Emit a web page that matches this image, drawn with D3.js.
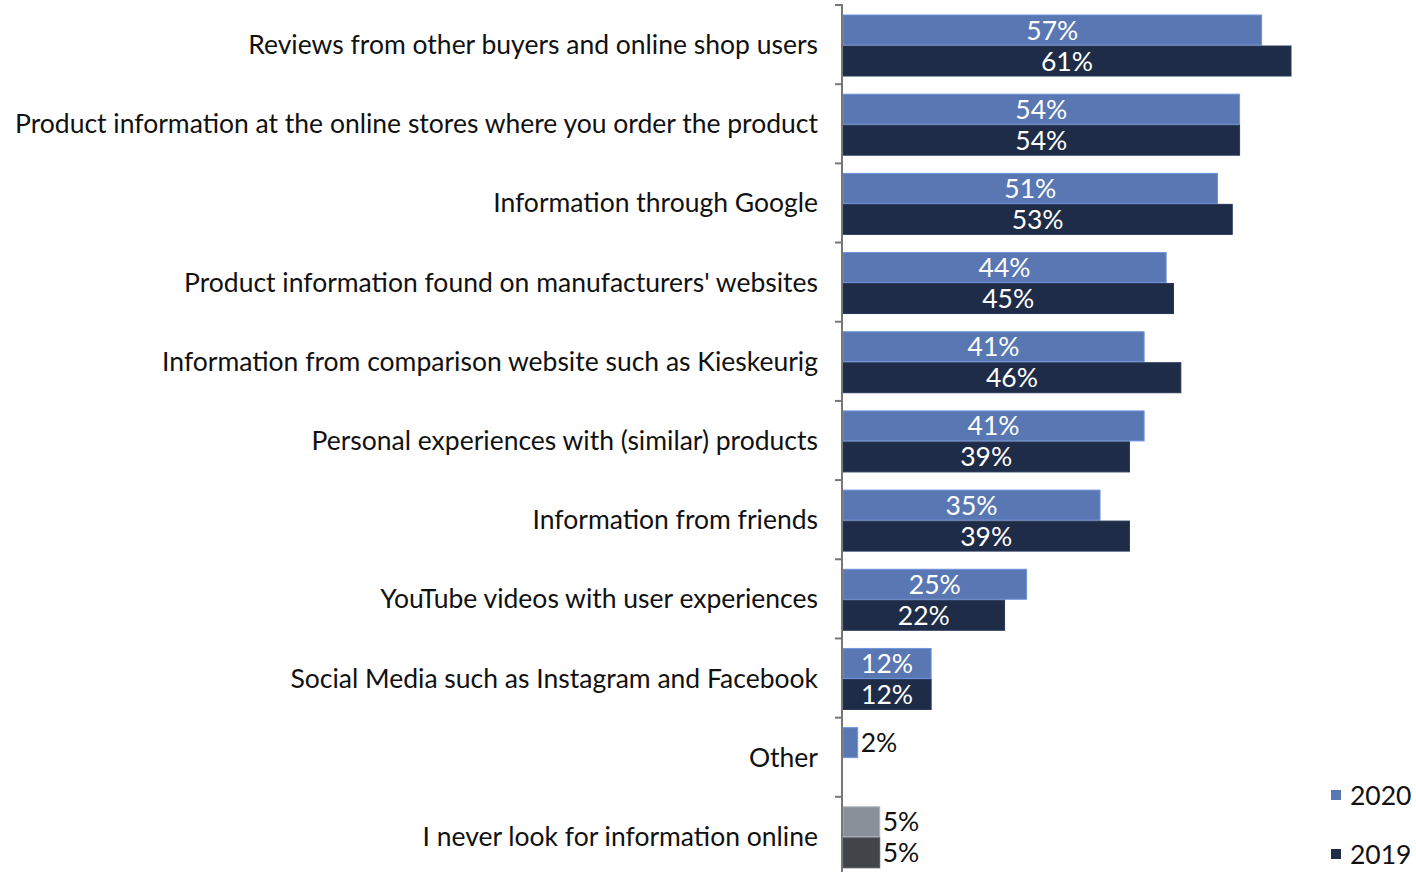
<!DOCTYPE html>
<html>
<head>
<meta charset="utf-8">
<script src="https://cdn.jsdelivr.net/npm/d3@7"></script>
<style>
  html, body { margin: 0; padding: 0; background: #fff; }
  svg { display: block; font-family: Lato, "Open Sans", sans-serif; font-weight: 400; }
</style>
</head>
<body>
<svg id="chart" width="1416" height="872"></svg>
<script>
// Sources consulted when shopping online (share of respondents, %)
const categories = [
  "Reviews from other buyers and online shop users",
  "Product information at the online stores where you order the product",
  "Information through Google",
  "Product information found on manufacturers' websites",
  "Information from comparison website such as Kieskeurig",
  "Personal experiences with (similar) products",
  "Information from friends",
  "YouTube videos with user experiences",
  "Social Media such as Instagram and Facebook",
  "Other",
  "I never look for information online"
];
const values2020 = [57, 54, 51, 44, 41, 41, 35, 25, 12, 2, 5];
const values2019 = [61, 54, 53, 45, 46, 39, 39, 22, 12, null, 5];
const seriesNames = ["2020", "2019"];

const colors = { "2020": "#5977b3", "2019": "#1f2c47" };
const neverColors = { "2020": "#8a9099", "2019": "#414449" };

const svg = d3.select("#chart");
const FS = 26.5;

const axisX = 842;
const y = d3.scaleBand().domain(categories).range([5, 876]).paddingInner(0).paddingOuter(0);
const x = d3.scaleLinear().domain([0, 61]).range([axisX + 1, 1291]);

const barH = 30;
const barOffset = { "2020": 10, "2019": 41 };

const rows = [];
categories.forEach((c, i) => {
  [["2020", values2020[i]], ["2019", values2019[i]]].forEach(([s, v]) => {
    if (v != null) rows.push({ cat: c, series: s, value: v, idx: i });
  });
});

const isNever = d => d.cat === "I never look for information online";
const fillOf = d => isNever(d) ? neverColors[d.series] : colors[d.series];

const g = svg.append("g");

g.selectAll("rect.bar")
  .data(rows)
  .join("rect")
  .attr("class", "bar")
  .attr("x", x(0))
  .attr("y", d => y(d.cat) + barOffset[d.series])
  .attr("width", d => x(d.value) - x(0))
  .attr("height", barH)
  .attr("fill", fillOf)
  .attr("stroke", d => d3.color(fillOf(d)).brighter(0.6))
  .attr("stroke-width", 1);

// value labels: inside the bar when there is room, otherwise just after it
g.selectAll("text.val")
  .data(rows)
  .join("text")
  .attr("class", "val")
  .attr("x", d => d.value >= 10 ? (x(0) + x(d.value)) / 2 : x(d.value) + 3)
  .attr("y", d => y(d.cat) + barOffset[d.series] + barH / 2)
  .attr("dy", "0.36em")
  .attr("text-anchor", d => d.value >= 10 ? "middle" : "start")
  .attr("fill", d => d.value >= 10 ? "#ffffff" : "#111111")
  .attr("font-size", FS)
  .text(d => d.value + "%");

// category axis: a vertical rule with short separators between categories
const axisG = svg.append("g").attr("transform", `translate(${axisX},0)`);
axisG.append("path")
  .attr("fill", "none")
  .attr("stroke", "#777").attr("stroke-width", 2)
  .attr("d", `M-7,5H0V872`);
axisG.selectAll("line.sep")
  .data(categories)
  .join("line")
  .attr("class", "sep")
  .attr("x1", -7).attr("x2", 0)
  .attr("y1", d => y(d)).attr("y2", d => y(d))
  .attr("stroke", "#777").attr("stroke-width", 2);

svg.append("g").selectAll("text.cat")
  .data(categories)
  .join("text")
  .attr("class", "cat")
  .attr("x", 818)
  .attr("y", d => y(d) + y.bandwidth() / 2)
  .attr("dy", "0.36em")
  .attr("text-anchor", "end")
  .attr("fill", "#111")
  .attr("font-size", FS)
  .text(d => d);

// legend
const legend = svg.append("g").selectAll("g")
  .data(seriesNames)
  .join("g")
  .attr("transform", (d, i) => `translate(1331, ${790 + i * 59})`);
legend.append("rect").attr("width", 10).attr("height", 10).attr("fill", d => colors[d]);
legend.append("text").attr("x", 19).attr("y", 5).attr("dy", "0.36em")
  .attr("font-size", FS).attr("fill", "#111").text(d => d);
</script>
</body>
</html>
